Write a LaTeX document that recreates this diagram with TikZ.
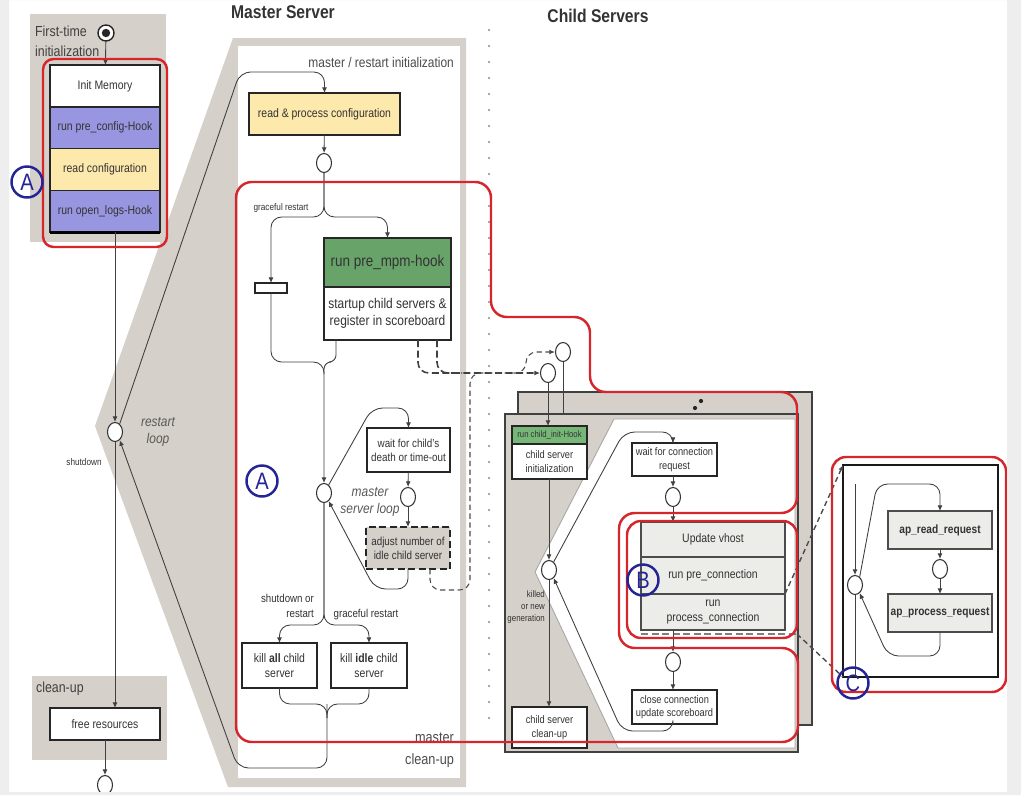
\documentclass[tikz,border=0pt]{standalone}
\usepackage{fontspec}
\setmainfont{Liberation Sans}[FakeStretch=0.85]
\usepackage{tikz}
\usetikzlibrary{arrows.meta, positioning, shapes.geometric, calc}

\definecolor{pagegray}{RGB}{238,238,238}
\definecolor{panelgray}{RGB}{214,208,202}
\definecolor{hookpurple}{RGB}{152,150,224}
\definecolor{confyellow}{RGB}{253,233,172}
\definecolor{mpmgreen}{RGB}{104,164,106}
\definecolor{initgreen}{RGB}{118,182,118}
\definecolor{stackgray}{RGB}{236,236,232}
\definecolor{markred}{RGB}{214,38,44}
\definecolor{marknavy}{RGB}{36,36,150}

\tikzset{
  >={Latex[length=3.2pt,width=2.8pt]},
  box/.style={draw=black!85, line width=0.9pt, fill=white, inner sep=0pt, outer sep=0pt,
    align=center, text=black!80, font=\fontsize{7}{8.2}\selectfont},
  stk/.style={box, draw=black!70, line width=0.6pt, fill=stackgray},
  junc/.style={ellipse, draw=black!80, line width=0.6pt, fill=white, inner sep=0pt,
    minimum width=0.3cm, minimum height=0.38cm},
  letter/.style={circle, draw=marknavy, line width=1.4pt, inner sep=0pt, minimum size=0.62cm,
    text=marknavy, font=\fontsize{13.5}{13.5}\selectfont},
  conn/.style={draw=black!75, line width=0.5pt},
  arr/.style={conn, ->},
  dashthick/.style={draw=black!75, line width=0.9pt, dash pattern=on 4pt off 2pt},
  dashthin/.style={draw=black!70, line width=0.6pt, dash pattern=on 3pt off 2pt},
  redline/.style={draw=markred, line width=1.4pt},
  lbl/.style={text=black!80, font=\fontsize{5.5}{6.6}\selectfont, inner sep=1pt},
}

\begin{document}
\begin{tikzpicture}[x=0.02cm, y=-0.02cm]
  \useasboundingbox (0,0) rectangle (1021,795);
  \fill[white] (0,0) rectangle (1021,795);

  % ---------- FIRST-TIME INITIALIZATION ----------
  \fill[panelgray] (233,38) -- (95,426) -- (228,787) -- (466,787) -- (466,38) -- cycle;
  \fill[white] (238,46) rectangle (460,778);
  \fill[panelgray] (30,14) rectangle (166,242);
  \node[anchor=west, text=black!75, font=\fontsize{8.3}{9}\selectfont, inner sep=1pt] (ftl) at (33,31) {First-time};
  \node[anchor=west, text=black!75, font=\fontsize{8.3}{9}\selectfont, inner sep=1pt] (ftl2) at (33,51) {initialization};
  \node[circle, draw=black!85, line width=0.8pt, fill=white, minimum size=0.32cm, inner sep=0pt] (start) at (106,33) {};
  \fill[black!85] (start) circle (2.4pt);
  \node[box, minimum width=2.2cm, minimum height=0.835cm] (im) at (105,86) {Init Memory};
  \node[box, fill=hookpurple, minimum width=2.2cm, minimum height=0.835cm, below=0pt of im] (pc) {run pre\_config-Hook};
  \node[box, fill=confyellow, minimum width=2.2cm, minimum height=0.835cm, below=0pt of pc] (rc) {read configuration};
  \node[box, fill=hookpurple, minimum width=2.2cm, minimum height=0.835cm, below=0pt of rc] (ol) {run open\_logs-Hook};
  \draw[line width=1.8pt] (ol.south west) -- (ol.south east);
  \draw[arr] (start) -- (im);

  % ---------- RESTART LOOP / CLEAN-UP ----------
  \fill[panelgray] (32,676) rectangle (167,760);
  \node[anchor=west, text=black!75, font=\fontsize{8.3}{9}\selectfont, inner sep=1pt] (cul) at (34,689) {clean-up};
  \node[junc] (rl) at (115,432) {};
  \node[align=center, text=black!65, font=\itshape\fontsize{8}{9.5}\selectfont] (rll) at (158,432) {restart\\loop};
  \node[lbl] (sdl) at (84,462) {shutdown};
  \node[box, minimum width=2.2cm, minimum height=0.64cm] (fr) at (105,724) {free resources};
  \node[junc] (endc) at (105,785) {};
  \draw[arr] (ol.south -| rl) -- (rl);
  \draw[arr] (rl) -- (rl |- fr.north);
  \draw[arr] (fr) -- (endc);

  % ---------- MASTER SERVER ----------
  \node[text=black!80, font=\bfseries\fontsize{10.5}{12}\selectfont] (mst) at (283,12) {Master Server};
  \node[anchor=east, text=black!70, font=\fontsize{8}{9}\selectfont, inner sep=1pt] (mri) at (456,62) {master / restart initialization};
  \node[box, fill=confyellow, minimum width=3.02cm, minimum height=0.84cm] (rp) at (324.5,114) {read \& process configuration};
  \node[junc] (j1) at (324,163) {};
  \node[lbl] (gr1) at (281,208) {graceful restart};
  \node[box, line width=0.8pt, minimum width=0.64cm, minimum height=0.2cm] (bar) at (271,288) {};
  \node[box, fill=mpmgreen, minimum width=2.54cm, minimum height=0.98cm, font=\fontsize{9}{10}\selectfont] (mpm) at (387.5,262.5) {run pre\_mpm-hook};
  \node[box, minimum width=2.54cm, minimum height=1.06cm, font=\fontsize{8}{9.6}\selectfont, below=0pt of mpm] (su) {startup child servers \&\\register in scoreboard};
  \node[junc] (ml) at (324,493) {};
  \node[box, minimum width=1.66cm, minimum height=0.88cm, font=\fontsize{6.6}{8}\selectfont] (wc) at (408.5,450) {wait for child's\\death or time-out};
  \node[junc] (j3) at (408,497) {};
  \node[box, fill=panelgray, dash pattern=on 4pt off 2pt, minimum width=1.68cm, minimum height=0.84cm, font=\fontsize{6.6}{8}\selectfont] (adj) at (408,548) {adjust number of\\idle child server};
  \node[align=center, text=black!65, font=\itshape\fontsize{8}{9.5}\selectfont] (msl) at (370,502) {master\\server loop};
  \node[anchor=east, align=right, lbl, font=\fontsize{6.5}{8.5}\selectfont] (sdr) at (316,606) {shutdown or\\restart};
  \node[lbl, font=\fontsize{6.5}{8}\selectfont] (grr) at (366,615) {graceful restart};
  \node[box, minimum width=1.5cm, minimum height=0.9cm] (ka) at (279.5,665.5) {kill \textbf{all} child\\server};
  \node[box, minimum width=1.52cm, minimum height=0.9cm] (ki) at (369,665.5) {kill \textbf{idle} child\\server};
  \node[anchor=east, align=right, text=black!70, font=\fontsize{8.5}{12.5}\selectfont, inner sep=1pt] (mcu) at (456,750) {master\\clean-up};

  \coordinate (ru) at (240,72);
  \draw[arr, rounded corners=6pt] (rl.60) -- (ru) -- (ru -| rp.north) -- (rp.north);
  \draw[arr] (rp) -- (j1);
  \coordinate (sp1) at (324,217);
  \draw[arr, rounded corners=6pt] (j1) -- (sp1) -- (sp1 -| bar.north) -- (bar.north);
  \draw[arr, rounded corners=6pt] (j1) -- (sp1) -- (sp1 -| mpm.north) -- (mpm.north);
  \coordinate (mj) at (324,362);
  \draw[arr, rounded corners=6pt] (bar.south) -- (bar.south |- mj) -- (mj) -- (ml.north);
  \draw[conn, rounded corners=4pt] ($(su.south west)+(12,0)$) -- ++(0,22) -- (mj) -- ++(0,12);
  \coordinate (mlt) at (372,408);
  \draw[arr, rounded corners=6pt] (ml.60) -- (mlt) -- (mlt -| wc.north) -- (wc.north);
  \draw[arr] (wc) -- (j3);
  \draw[arr] (j3) -- (adj);
  \coordinate (mlb) at (375,589);
  \draw[arr, rounded corners=6pt] (adj.south) -- (adj.south |- mlb) -- (mlb) -- (ml.-60);
  \coordinate (ks) at (324,625);
  \draw[arr, rounded corners=6pt] (ml.south) -- (ks) -- (ks -| ka.north) -- (ka.north);
  \draw[arr, rounded corners=6pt] (ml.south) -- (ks) -- (ks -| ki.north) -- (ki.north);
  \coordinate (kj) at (327,704);
  \draw[conn, rounded corners=6pt] (ka.south) -- (ka.south |- kj) -- (kj) -- ++(0,14);
  \draw[conn, rounded corners=6pt] (ki.south) -- (ki.south |- kj) -- (kj) -- ++(0,14);
  \coordinate (kb) at (327,768);
  \coordinate (kl) at (238,768);
  \draw[arr, rounded corners=6pt] (kj) -- (kb) -- (kl) -- (rl.-60);

  % ---------- CHILD SERVERS ----------
  \node[text=black!80, font=\bfseries\fontsize{10.5}{12}\selectfont] (cst) at (598,16) {Child Servers};
  \foreach \y in {30,46,...,730} \fill[black!45] (489,\y) circle (0.6pt);
  \node[draw=black!75, line width=0.8pt, fill=panelgray, minimum width=5.88cm, minimum height=6.66cm, inner sep=0pt, outer sep=0pt] (bb) at (665,558.5) {};
  \node[draw=black!75, line width=0.8pt, fill=panelgray, minimum width=5.86cm, minimum height=6.76cm, inner sep=0pt, outer sep=0pt] (fb) at (651.5,583) {};
  \filldraw[fill=white, draw=black!35, line width=0.5pt] (614,419) -- (795,419) -- (795,748) -- (618,748) -- (535,572) -- cycle;
  \fill[black!85] (695,408) circle (1.2pt);
  \fill[black!85] (701,401) circle (1.2pt);
  \node[junc] (C1) at (548,373) {};
  \node[junc] (C2) at (563,352) {};
  \node[box, fill=initgreen, minimum width=1.5cm, minimum height=0.36cm, font=\fontsize{5.2}{6}\selectfont] (ci) at (549.5,435) {run child\_init-Hook};
  \node[box, minimum width=1.5cm, minimum height=0.7cm, font=\fontsize{6.2}{7.6}\selectfont, below=0pt of ci] (cs) {child server\\initialization};
  \node[junc] (cj) at (549,570) {};
  \node[anchor=east, align=right, lbl, font=\fontsize{5.3}{6.9}\selectfont] (kng) at (547,607) {killed\\or new\\generation};
  \node[box, minimum width=1.5cm, minimum height=0.82cm, font=\fontsize{6.2}{7.6}\selectfont] (cc) at (549.5,727.5) {child server\\clean-up};
  \node[box, minimum width=1.7cm, minimum height=0.66cm, font=\fontsize{6.2}{7.6}\selectfont] (wr) at (674.5,459.5) {wait for connection\\request};
  \node[junc] (j4) at (673,497) {};
  \node[stk, minimum width=2.88cm, minimum height=0.7cm] (uv) at (713,539.5) {Update vhost};
  \node[stk, minimum width=2.88cm, minimum height=0.74cm, below=0pt of uv] (rp2) {run pre\_connection};
  \node[stk, minimum width=2.88cm, minimum height=0.72cm, below=0pt of rp2] (pcn) {run\\process\_connection};
  \node[junc] (j5) at (673,662) {};
  \node[box, minimum width=1.7cm, minimum height=0.68cm, font=\fontsize{6.2}{7.6}\selectfont] (clc) at (674.5,707) {close connection\\update scoreboard};
  \draw[draw=black!50, line width=0.8pt, dash pattern=on 4pt off 2pt] ($(pcn.south west)+(0,4)$) -- ($(pcn.south east)+(12,4)$);

  \draw[conn] (C2) -- (C2 |- fb.north);
  \draw[arr] (C1) -- (C1 |- ci.north);
  \draw[arr] (cs.south -| cj) -- (cj);
  \draw[arr] (cj) -- (cj |- cc.north);
  \draw[arr] (wr.south -| j4) -- (j4);
  \draw[arr] (j4) -- (j4 |- uv.north);
  \draw[arr] (j4 |- pcn.south) -- (j5);
  \draw[arr] (j5) -- (j5 |- clc.north);
  \coordinate (clt) at (624,432);
  \draw[arr, rounded corners=6pt] (cj.60) -- (clt) -- (clt -| j4) -- (j4 |- wr.north);
  \coordinate (clb) at (622,731);
  \draw[arr, rounded corners=6pt] (clc.south -| j5) -- (j5 |- clb) -- (clb) -- (cj.-60);

  % dashed links master -> child
  \draw[dashthick, ->, rounded corners=6pt] ($(su.south)+(30.5,0)$) -- ++(0,33) -- (C1.west);
  \draw[dashthick, rounded corners=6pt] ($(su.south)+(49.5,0)$) -- ++(0,33) -- ++(25,0);
  \coordinate (dl1) at (470,590);
  \coordinate (dl2) at (470,373);
  \coordinate (dl3) at (526,373);
  \draw[dashthin, ->, rounded corners=6pt] ($(adj.south)+(22,0)$) -- ($(adj.south)+(22,21)$) -- (dl1) -- (dl2) -- (dl3) -- (dl3 |- C2) -- (C2.west);

  % ---------- REQUEST LOOP (C) ----------
  \node[draw=black!90, line width=1.3pt, fill=white, minimum width=3.1cm, minimum height=4.24cm, inner sep=0pt, outer sep=0pt] (cf) at (920.5,571) {};
  \node[junc] (cj2) at (855,585) {};
  \node[stk, minimum width=2.08cm, minimum height=0.76cm, font=\bfseries\fontsize{6.8}{8}\selectfont] (ar) at (940,530) {ap\_read\_request};
  \node[junc] (j6) at (940,569) {};
  \node[stk, minimum width=2.08cm, minimum height=0.76cm, font=\bfseries\fontsize{6.8}{8}\selectfont] (apr) at (940,613) {ap\_process\_request};
  \coordinate (ct) at (855,484);
  \draw[arr] (ct) -- (cj2);
  \draw[conn] (cj2) -- (cj2 |- cf.south);
  \coordinate (cat) at (877,484);
  \draw[arr, rounded corners=6pt] (cj2.60) -- (cat) -- (cat -| ar.north) -- (ar.north);
  \draw[arr] (ar) -- (j6);
  \draw[arr] (j6) -- (apr);
  \coordinate (cab) at (888,656);
  \draw[arr, rounded corners=6pt] (apr.south) -- (apr.south |- cab) -- (cab) -- (cj2.-60);
  \draw[dashthin, line width=0.8pt, ->] (rp2.south east) -- (cf.north west);
  \draw[dashthin, line width=0.8pt] ($(pcn.south east)+(12,4)$) -- (cf.south west);

  % ---------- MARKED REGIONS ----------
  \draw[redline, rounded corners=6pt] (43,59) rectangle (167,247);
  \draw[redline, rounded corners=9pt] (236,400) -- (236,182) -- (491,182) -- (491,317) -- (590,317)
    -- (590,392) -- (797,392) -- (797,513) -- (619,513) -- (619,648) -- (798,648) -- (798,742)
    -- (236,742) -- cycle;
  \draw[redline, rounded corners=8pt] (627,521) rectangle (797,638);
  \draw[redline, rounded corners=8pt] (832,457) rectangle (1006,692);
  \node[letter] (a1) at (27,182) {A};
  \node[letter] (a2) at (262,481) {A};
  \node[letter] (b) at (643,580) {B};
  \node[letter] (c) at (853,683) {C};

  % page frame
  \fill[pagegray, even odd rule] (0,0) rectangle (1021,795) (9,0) rectangle (1007,792);
\end{tikzpicture}
\end{document}
